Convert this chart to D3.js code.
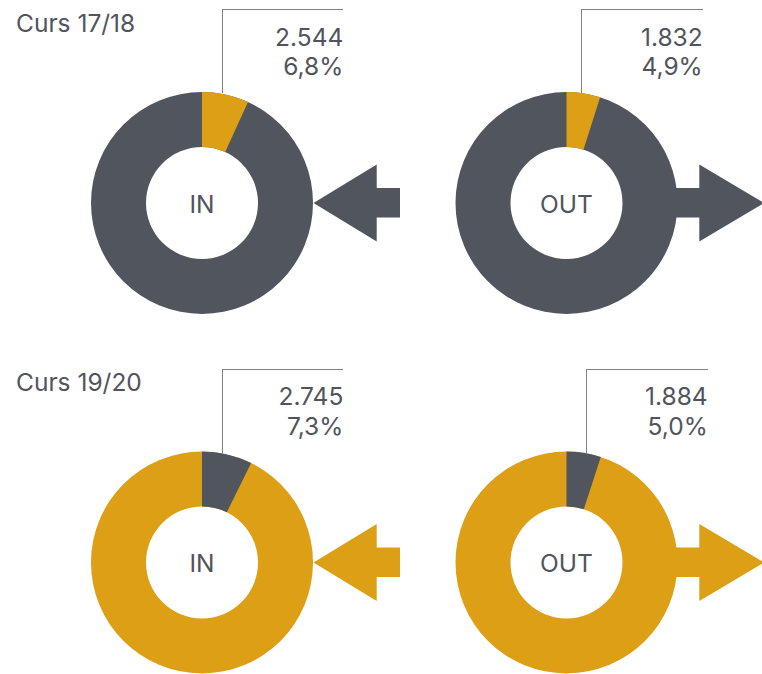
<!DOCTYPE html>
<html>
<head>
<meta charset="utf-8">
<script src="https://cdn.jsdelivr.net/npm/d3@7"></script>
<style>
  html, body { margin: 0; padding: 0; background: #ffffff; }
  svg { display: block; }
  text { font-family: Inter, Roboto, "Noto Sans", sans-serif; fill: #50545c; font-weight: 400; }
</style>
</head>
<body>
<svg id="chart" width="762" height="674"></svg>
<script>
// ---- data ----
const courses = ["Curs 17/18", "Curs 19/20"];
const directions = ["IN", "OUT"];
const counts = [[2544, 1832], [2745, 1884]];   // students
const shares = [[6.8, 4.9], [7.3, 5.0]];       // % of total

// ---- style / layout ----
const DARK = "#51555e";
const GOLD = "#dc9f16";
const rowMain = [DARK, GOLD];
const rowHighlight = [GOLD, DARK];
const W = 762, H = 674;
const FS = 24.5;
const colX = d3.scalePoint().domain(directions).range([202, 566.5]);
const rowY = d3.scalePoint().domain(courses).range([203, 562.5]);
const R = 111, r0 = 56;
const leaderDx = [[20.5, 14.5], [20, 19.5]];
const labelRight = [[141.3, 136.2], [141.3, 141.2]];

const locale = d3.formatLocale({ decimal: ",", thousands: ".", grouping: [3], currency: ["", "€"] });
const fmtCount = locale.format(",d");
const fmtPct = locale.format(".1f");

const svg = d3.select("#chart");
const pie = d3.pie().sort(null).value(d => d);
const arc = d3.arc().innerRadius(r0).outerRadius(R);

courses.forEach((course, i) => {
  const cy = rowY(course);
  // course title
  svg.append("text")
    .attr("x", 16).attr("y", cy - 171.3)
    .attr("font-size", FS)
    .text(course);

  directions.forEach((dir, j) => {
    const cx = colX(dir);
    const g = svg.append("g").attr("transform", `translate(${cx},${cy})`);
    const share = shares[i][j];
    const slices = pie([share, 100 - share]);

    // arrow
    const col = rowMain[i];
    let pts;
    if (dir === "IN") {
      const tip = R + 0.5;
      pts = [[tip, 0], [174.7, -38.5], [174.7, -15], [198, -15], [198, 14.5], [174.7, 14.5], [174.7, 38.5]];
    } else {
      pts = [[R - 10, -15], [132.8, -15], [132.8, -38.5], [W - cx + 2, 0], [132.8, 38.5], [132.8, 14.5], [R - 10, 14.5]];
    }
    g.append("path")
      .attr("d", d3.line()(pts) + "Z")
      .attr("fill", col);

    // full ring in the main colour, then the highlighted share on top (no seams)
    g.append("path")
      .attr("d", arc({ startAngle: 0, endAngle: 2 * Math.PI }))
      .attr("fill", rowMain[i]);
    g.append("path")
      .datum(slices[0])
      .attr("d", arc)
      .attr("fill", rowHighlight[i]);

    // centre label
    g.append("text")
      .attr("text-anchor", "middle")
      .attr("y", 9.5)
      .attr("font-size", FS)
      .text(dir);

    // leader line
    const lx = leaderDx[i][j], rx = labelRight[i][j];
    const topY = -193.5;
    g.append("path")
      .attr("d", `M${lx},${-R + 1}V${topY}H${rx}`)
      .attr("fill", "none")
      .attr("stroke", "#7d8086")
      .attr("stroke-width", 1)
      .attr("shape-rendering", "crispEdges");

    g.append("text")
      .attr("text-anchor", "end")
      .attr("x", rx).attr("y", -157.3)
      .attr("font-size", FS)
      .text(fmtCount(counts[i][j]));
    g.append("text")
      .attr("text-anchor", "end")
      .attr("x", rx).attr("y", -128)
      .attr("font-size", FS)
      .text(fmtPct(share) + "%");
  });
});
</script>
</body>
</html>
